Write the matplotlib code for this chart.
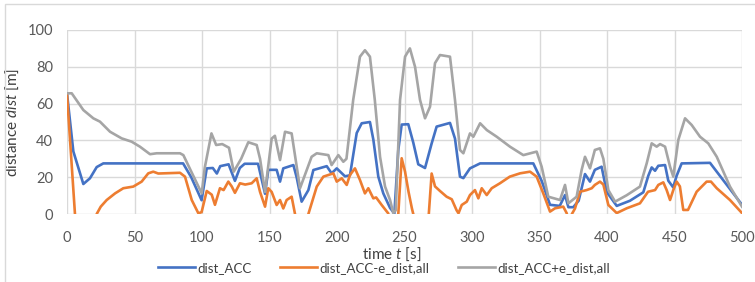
import matplotlib
matplotlib.use("Agg")
import matplotlib.pyplot as plt
from matplotlib.patches import Rectangle

plt.rcParams['font.family'] = ['Lato', 'DejaVu Sans']
plt.rcParams['mathtext.fontset'] = 'custom'
plt.rcParams['mathtext.rm'] = 'Lato'
plt.rcParams['mathtext.it'] = 'Lato:italic'

# ---- data (time in s, distance in m) ----
t_acc = [0, 4.7, 12.1, 17, 22, 26.9, 86, 92, 99.7, 103.5, 108, 111, 113.5, 119.7, 124.4, 128,
         131.6, 141.5, 146.7, 149.1, 155.3, 157.8, 160.2, 167.7, 170.1, 173.8, 178.8, 182.5,
         192.4, 196, 199.8, 205.9, 209.6, 214.6, 218.3, 224.4, 226.9, 230.6, 234.3, 239.3,
         242.5, 245.4, 247.9, 252.8, 256.5, 260.2, 265.2, 270.1, 273.8, 283.7, 287.4, 291.1,
         293.6, 298.5, 306, 345.4, 351.6, 357.8, 365, 368.9, 371.4, 375, 379, 383.7, 387.4,
         391, 396, 399.8, 407.2, 417, 426.9, 430.6, 433.1, 435.6, 438, 443, 445.4, 449,
         451.6, 455.3, 476.3, 500]
dist_acc = [65.5, 34, 16.3, 19.4, 25.5, 27.5, 27.5, 20, 7.5, 24.8, 25, 22, 26, 27, 18, 25,
            27.3, 27.3, 11, 24, 24, 17.6, 24.8, 26.6, 20, 6.7, 13, 23.9,
            26, 22.1, 24.8, 20.5, 21, 44, 49.3, 50, 40.5, 20.3, 11.2, 3.3,
            0.3, 34.8, 48.6, 48.8, 38.8, 27, 25, 38.3, 47.5, 49.5, 41, 20.3,
            19.5, 24.8, 27.5, 27.5, 18, 5, 4.4, 10.3, 3.7, 3.7, 7.2, 21.7, 17.6,
            24, 25.7, 12, 4.4, 7.2, 11.8, 20.8, 25.3, 23.5, 26.2, 26.6, 18.1, 14.5,
            20.8, 27.5, 27.8, 5]

t_low = [0, 5.9, 8, 20, 22, 25, 29.4, 35.6, 41.7, 49.1, 55.3, 60.2, 63.9, 67.6, 83.7, 87.4,
         92.4, 97.3, 99.7, 103.5, 107.2, 109.6, 113.3, 116, 119.5, 122, 124.4, 128.1, 132,
         136.8, 140.5, 143, 146.7, 149.1, 151.6, 155.3, 157.8, 160.2, 162.7, 166.4, 168.9,
         171, 176, 178.8, 185, 189.9, 197.3, 199.8, 203.5, 207.2, 209.6, 213.3, 217, 220.7,
         223.2, 226.9, 229, 233.1, 238, 240, 244, 245.4, 247.9, 250.4, 253, 255.5, 256.5,
         258, 266, 268, 270.1, 272.6, 276.3, 281.2, 285, 288.6, 290, 292.4, 296.1, 298.5,
         302.2, 304.7, 307.2, 310.9, 314.6, 320.7, 328, 335.6, 343, 347.9, 352.8, 357.8,
         361.5, 367.6, 370.1, 372, 374, 376.3, 380, 384.9, 388.7, 391, 394.8, 397.3, 401,
         407.2, 414.6, 424.4, 430.4, 435.6, 438, 441.7, 444.2, 446.7, 449.1, 451.6, 454,
         456.5, 460, 466.4, 473.8, 477, 481.3, 491.1, 500]
dist_low = [65, 0, -15, -15, 0, 4, 7.6, 11.2, 14, 14.9, 17.6, 22.1, 23, 22, 22.4, 20.3,
            7.6, 0.4, 1, 12.5, 10.5, 5, 14, 13, 17.6, 15, 11.5, 16.7, 16,
            16.7, 19.4, 12, 4, 14, 12, 4.9, 7.6, 3, 7.6, 9.4, 0,
            -15, -15, 0, 14.9, 20.3, 22.1, 17.6, 19.4, 15.8, 21.2, 24.8, 18.5, 11.2,
            14, 8.5, 9, 4.9, 0.3, -15, -15, 0, 30.3, 23, 12, 3, 0,
            -15, -15, 0, 22, 15, 12.5, 9.4, 8, 2, 0.4, 4.9, 6.7, 10.3,
            13, 8.5, 14, 10.3, 14, 16.7, 20.3, 22.1, 23, 20.3, 11.2, 1.3,
            3.1, 4, 0.5, -5, 0, 3, 12.1, 13, 14, 15.8, 17.6, 16, 4.9,
            0.5, 3.1, 5.8, 12.1, 13, 15.8, 17.2, 13, 7.6, 13, 17.6, 15,
            2.2, 2.2, 12.1, 17.6, 17.6, 14, 7.6, 0.5]

t_high = [0, 3.5, 12.1, 19.5, 24.4, 31.9, 40.5, 47.9, 54, 61.5, 66.4, 83.7, 86.2, 99.8, 102,
          107, 110.5, 115, 120, 123.5, 129, 134.3, 140.5, 143, 146.7, 151.6, 154, 157.8,
          161.5, 166.4, 172.6, 181.2, 185, 193.6, 196, 201, 204.7, 207, 212, 217, 220.7,
          224.4, 228, 231.9, 235.6, 239.3, 241.7, 243.5, 246.7, 250.4, 254, 257.8, 261.5,
          265.2, 268.9, 272.6, 276.3, 283.7, 287.4, 291.1, 293.6, 298.5, 301, 306, 311,
          318.3, 328.1, 338, 347.9, 351.6, 356.5, 365.2, 368.9, 371.4, 377.5, 381.2, 383.7,
          387.4, 391, 394.8, 397.3, 401, 406, 414.6, 424.4, 429.4, 433.1, 436.8, 439.3, 443,
          446.7, 449.1, 452.8, 457.8, 462.7, 468.9, 475, 481.3, 491.1, 500]
dist_high = [65.6, 65.6, 56.5, 52, 50.2, 44.7, 41.1, 39.3, 36.6, 32.5, 33, 33, 32, 11.2, 25,
             43.8, 37.5, 38, 36, 23, 30, 39, 37.5, 30, 12, 41, 42.5, 29.3,
             44.7, 43.8, 14, 31.1, 33, 32, 26.6, 32, 28.4, 30, 62, 85.5, 89,
             85.5, 62, 31, 14.9, 7.6, 0.5, 2, 62, 85.5, 90, 80, 62,
             52, 58.3, 82, 86.4, 85.5, 62, 34.8, 33, 43.8, 42, 49.3, 45.6,
             42, 36.6, 32, 33.9, 25.7, 9.4, 7.6, 15.8, 5.8, 9.4, 23.9, 31.1,
             24.8, 34.8, 35.7, 30, 13, 6.7, 10.2, 14.9, 27.5, 38.4, 36.6, 38, 36.6,
             25.7, 20.3, 40.2, 52, 48.4, 42, 38.4, 31.1, 14.9, 4]

series_labels = ['dist_ACC', 'dist_ACC-e_dist,all', 'dist_ACC+e_dist,all']
colors = ['#4472C4', '#ED7D31', '#A5A5A5']
x_ticks = [0, 50, 100, 150, 200, 250, 300, 350, 400, 450, 500]
y_ticks = [0, 20, 40, 60, 80, 100]

W, H = 755, 282
fig = plt.figure(figsize=(W / 100, H / 100), dpi=100)
ax = fig.add_axes([67 / W, 1 - 214 / H, (742 - 67) / W, (214 - 30) / H])

lw = 1.9
ax.plot(t_acc, dist_acc, color=colors[0], lw=lw, label=series_labels[0], solid_joinstyle='round')
ax.plot(t_low, dist_low, color=colors[1], lw=lw, label=series_labels[1], solid_joinstyle='round')
ax.plot(t_high, dist_high, color=colors[2], lw=lw, label=series_labels[2], solid_joinstyle='round')

ax.set_xlim(0, 500)
ax.set_ylim(0, 100)
ax.set_xticks(x_ticks)
ax.set_yticks(y_ticks)
ax.grid(True, color='#d9d9d9', lw=1.0)
ax.set_axisbelow(True)
for s in ax.spines.values():
    s.set_visible(False)
ax.tick_params(length=0, labelsize=10.5, colors='#595959')
ax.tick_params(axis='x', pad=12)
ax.tick_params(axis='y', pad=10)

ax.set_xlabel('time $t$ [s]', fontsize=11, color='#404040', labelpad=0)
ax.xaxis.set_label_coords((392 - 67) / (742 - 67), -0.175)
ax.set_ylabel('distance $dist$ [m]', fontsize=11, color='#404040', labelpad=5)

fig.legend(loc='center', bbox_to_anchor=(384 / W, 1 - 268 / H), ncol=3, frameon=False,
           fontsize=9.5, handlelength=2.8, handletextpad=0.15, columnspacing=2.2,
           labelcolor='#404040')

fig.patches.append(Rectangle((5 / W, -0.1), 1.2, 1.1 - 4 / H, transform=fig.transFigure,
                             fill=False, edgecolor='#d9d9d9', lw=1.0))

fig.savefig('out.png', dpi=100)
